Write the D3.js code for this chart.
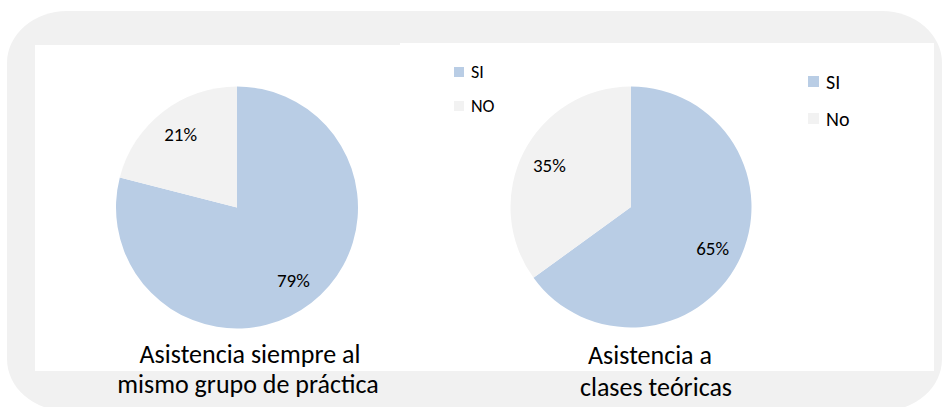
<!DOCTYPE html>
<html>
<head>
<meta charset="utf-8">
<script src="https://cdn.jsdelivr.net/npm/d3@7"></script>
<style>
  html, body { margin: 0; padding: 0; background: #ffffff; }
  svg { display: block; }
  text { font-family: Carlito, "Open Sans", Lato, sans-serif; fill: #000; }
</style>
</head>
<body>
<svg id="chart" width="942" height="407"></svg>
<script>
// Survey answers, one pie per question
const categories1 = ["SI", "NO"];
const values1 = [79, 21];
const title1 = ["Asistencia siempre al", "mismo grupo de práctica"];

const categories2 = ["SI", "No"];
const values2 = [65, 35];
const title2 = ["Asistencia a", "clases teóricas"];

const sliceColors = ["#b9cde5", "#f2f2f2"];

const svg = d3.select("#chart");

// Rounded grey frame behind both charts
svg.append("rect")
  .attr("x", 7).attr("y", 11)
  .attr("width", 935).attr("height", 400)
  .attr("rx", 60).attr("ry", 52)
  .attr("fill", "#f1f1f1");

// White plot panels
svg.append("rect").attr("x", 35).attr("y", 45).attr("width", 365).attr("height", 326).attr("fill", "#fff");
svg.append("rect").attr("x", 400).attr("y", 43).attr("width", 534).attr("height", 328).attr("fill", "#fff");

function drawPie(cfg) {
  const color = d3.scaleOrdinal().domain(cfg.categories).range(sliceColors);
  const pie = d3.pie().sort(null).value(d => d.value);
  const arcs = pie(cfg.categories.map((c, i) => ({ cat: c, value: cfg.values[i] })));
  const arc = d3.arc().innerRadius(0).outerRadius(cfg.r);
  const labelArc = d3.arc().innerRadius(cfg.r * 0.76).outerRadius(cfg.r * 0.76);

  const g = svg.append("g").attr("transform", `translate(${cfg.cx},${cfg.cy})`);
  g.selectAll("path.slice").data(arcs).join("path")
    .attr("class", "slice")
    .attr("d", arc)
    .attr("fill", d => color(d.data.cat));

  const total = d3.sum(cfg.values);
  g.selectAll("text.pct").data(arcs).join("text")
    .attr("class", "pct")
    .attr("transform", d => `translate(${labelArc.centroid(d)})`)
    .attr("text-anchor", "middle")
    .attr("dy", "0.35em")
    .style("font-size", "19px")
    .text(d => Math.round(d.data.value / total * 100) + "%");

  // Legend
  const leg = svg.append("g").attr("transform", `translate(${cfg.legX},${cfg.legY})`);
  const items = leg.selectAll("g").data(cfg.categories).join("g")
    .attr("transform", (d, i) => `translate(0,${i * cfg.legGap})`);
  items.append("rect").attr("width", cfg.sw).attr("height", cfg.sw).attr("fill", d => color(d));
  items.append("text").attr("x", cfg.sw + 7).attr("y", cfg.sw / 2).attr("dy", "0.36em")
    .style("font-size", cfg.legFont + "px").text(d => d);

  // Title
  const t = svg.append("text").attr("text-anchor", "middle").style("font-size", "26px");
  cfg.title.forEach((line, i) => {
    t.append("tspan").attr("x", cfg.titleX[i]).attr("y", cfg.titleY[i]).text(line);
  });
}

drawPie({
  categories: categories1, values: values1, title: title1,
  cx: 237, cy: 207.5, r: 121,
  legX: 454, legY: 67, legGap: 34, sw: 10, legFont: 18,
  titleX: [250, 248], titleY: [363, 393]
});

drawPie({
  categories: categories2, values: values2, title: title2,
  cx: 631, cy: 207, r: 120.5,
  legX: 808, legY: 76, legGap: 37, sw: 11, legFont: 20,
  titleX: [650, 656], titleY: [364, 396]
});
</script>
</body>
</html>
